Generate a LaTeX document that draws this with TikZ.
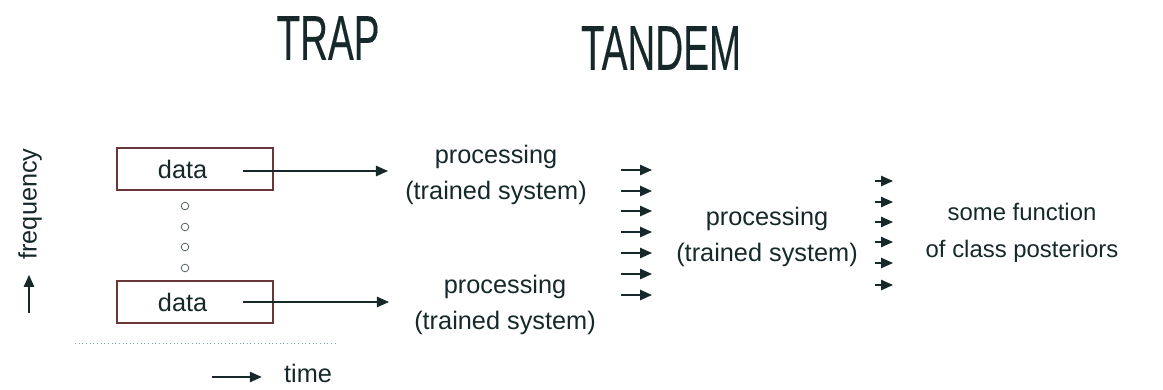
\documentclass[tikz,border=0pt]{standalone}
\usepackage{fontspec}
\setmainfont{Liberation Sans}
\newfontfamily\headfont{Liberation Sans}[FakeBold=0.3]
\usepackage{graphicx}
\usetikzlibrary{arrows.meta,positioning}

\definecolor{ink}{RGB}{22,40,42}
\definecolor{boxline}{RGB}{105,55,55}
\definecolor{rulecol}{RGB}{120,165,165}

\begin{document}
\begin{tikzpicture}[x=0.025cm, y=-0.025cm, >={Triangle[length=0.3cm, width=0.26cm]}]
    \tikzstyle{heading} = [font=\headfont\fontsize{45}{50}\selectfont, text=ink, inner sep=0pt]
    \tikzstyle{stage} = [align=center, font=\fontsize{18}{26}\selectfont, text=ink, inner sep=0pt]
    \tikzstyle{axis} = [font=\fontsize{18}{22}\selectfont, text=ink, inner sep=0pt]
    \tikzstyle{databox} = [rectangle, draw=boxline, line width=1.3pt, minimum width=3.9cm, minimum height=1.05cm, inner xsep=1.025cm, text width=1.85cm, align=left, font=\fontsize{18}{22}\selectfont, text=ink]
    \tikzstyle{dot} = [circle, draw=ink!70, line width=0.6pt, minimum size=0.19cm, inner sep=0pt]
    \tikzstyle{flow} = [draw=ink, line width=1pt]

    \useasboundingbox (0,0) rectangle (1163,389);

    % Headings
    \node [heading] (trap) at (328,38) {\scalebox{0.61}[1]{TRAP}};
    \node [heading] (tandem) at (661,48) {\scalebox{0.61}[1]{TANDEM}};

    % Data blocks and the dots between them
    \node [databox] (data1) at (195,169) {data};
    \node [databox] (data2) at (195,302) {data};
    \foreach \y [count=\i] in {206,227,247,268}
        \node [dot] (dot\i) at (185,\y) {};

    % Axes
    \node [axis, rotate=90] (freq) at (30,204) {frequency};
    \coordinate (f0) at (29,313);
    \draw [flow, ->, shorten >=0.375cm] (f0) -- (f0 |- freq.west);
    \draw [rulecol, line width=0.6pt, dotted] (75,343) -- (337,343);
    \node [axis] (time) at (308,373) {time};
    \coordinate (t0) at (212,377);
    \draw [flow, ->, shorten >=0.55cm] (t0) -- (t0 -| time.west);

    % Processing stages
    \node [stage] (proc1) at (496,175) {processing\\(trained system)};
    \node [stage] (proc2) at (505,305) {processing\\(trained system)};
    \node [stage] (proc3) at (767,237) {processing\\(trained system)};
    \node [stage, font=\fontsize{17}{26}\selectfont] (post) at (1022,233) {some function\\of class posteriors};

    % Data into the first stages
    \coordinate (d1s) at (243,171);
    \coordinate (d2s) at (243,302);
    \draw [flow, ->, shorten >=0.425cm] (d1s) -- (d1s -| proc1.west);
    \draw [flow, ->, shorten >=0.625cm] (d2s) -- (d2s -| proc2.west);

    % Outputs feeding the tandem stage
    \foreach \y [count=\i] in {170,191,211,232,253,274,295} {
        \coordinate (in\i) at (621,\y);
        \draw [flow, ->] (in\i) -- ++(31,0);
    }

    % Posteriors out of the tandem stage
    \foreach \y [count=\i] in {181,202,222,242,263,285} {
        \coordinate (out\i) at (875,\y);
        \draw [flow, ->] (out\i) -- ++(18,0);
    }
\end{tikzpicture}
\end{document}
